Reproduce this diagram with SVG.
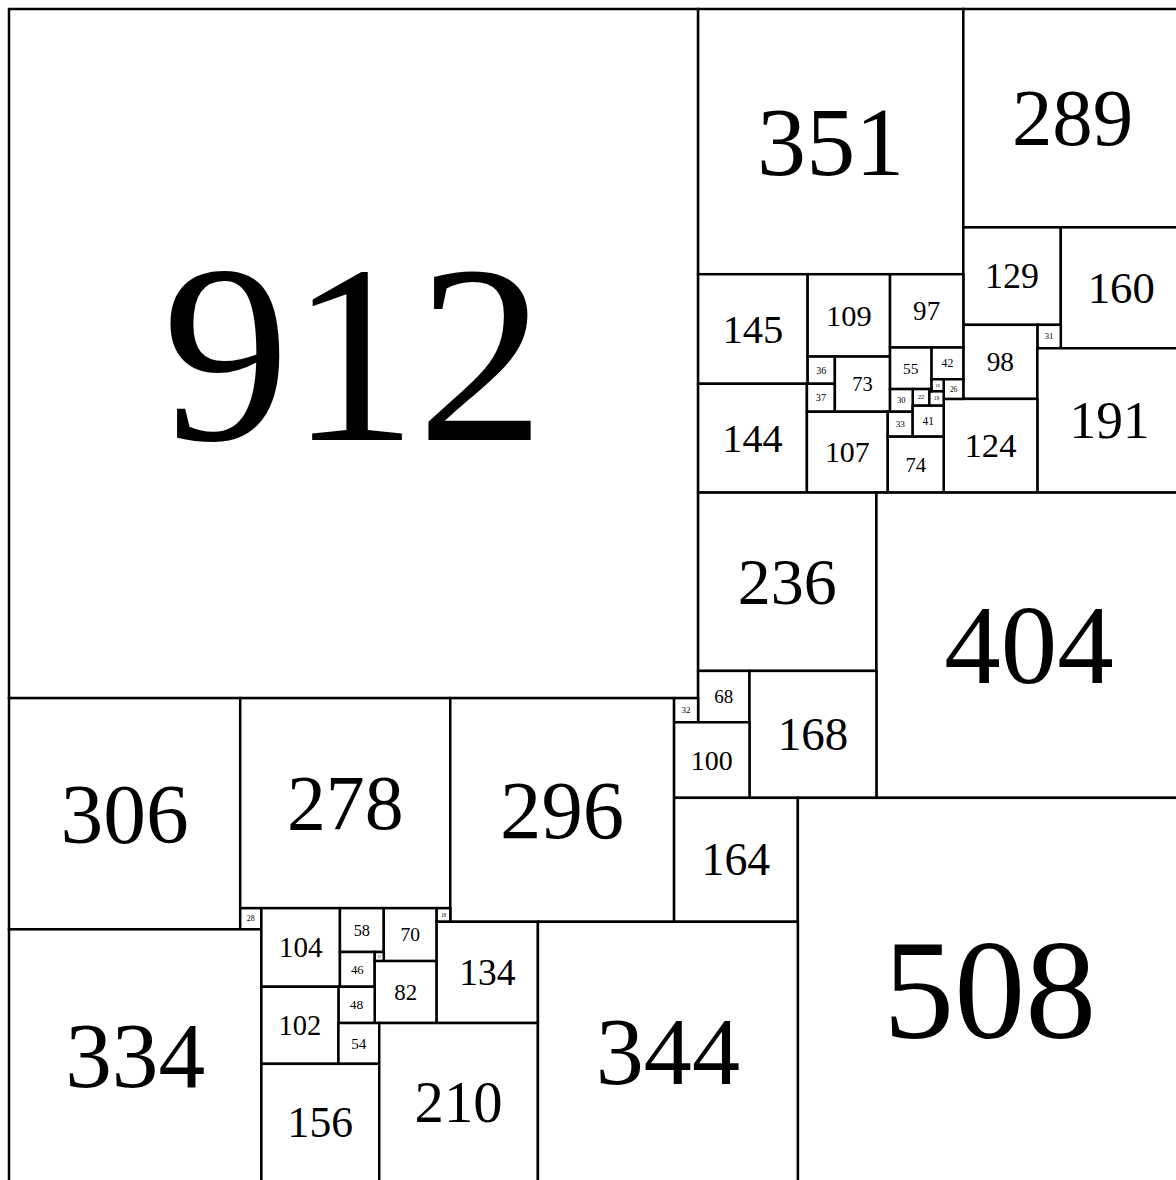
<svg xmlns="http://www.w3.org/2000/svg" width="1176" height="1180" viewBox="0 0 1176 1180">
<style>
rect.sq{fill:#fff;stroke:#000;stroke-width:3.3}
text{font-family:"Liberation Serif","Times New Roman",serif;fill:#000;text-anchor:middle}
</style>
<rect x="0" y="0" width="1176" height="1180" fill="#fff"/>
<g transform="translate(9,9) scale(0.7556)">
<g id="connectors"></g>
<g id="s912"><rect class="sq" x="0" y="0" width="912" height="912"/><text x="456" y="570" font-size="337.4">912</text></g>
<g id="s351"><rect class="sq" x="912" y="0" width="351" height="351"/><text x="1087.5" y="219.4" font-size="129.9">351</text></g>
<g id="s289"><rect class="sq" x="1263" y="0" width="289" height="289"/><text x="1407.5" y="180.6" font-size="106.9">289</text></g>
<g id="s129"><rect class="sq" x="1263" y="289" width="129" height="129"/><text x="1327.5" y="369.6" font-size="47.7">129</text></g>
<g id="s160"><rect class="sq" x="1392" y="289" width="160" height="160"/><text x="1472" y="389" font-size="59.2">160</text></g>
<g id="s31"><rect class="sq" x="1361" y="418" width="31" height="31"/><text x="1376.5" y="437.4" font-size="11.5">31</text></g>
<g id="s98"><rect class="sq" x="1263" y="418" width="98" height="98"/><text x="1312" y="479.3" font-size="36.3">98</text></g>
<g id="s191"><rect class="sq" x="1361" y="449" width="191" height="191"/><text x="1456.5" y="568.4" font-size="70.7">191</text></g>
<g id="s124"><rect class="sq" x="1237" y="516" width="124" height="124"/><text x="1299" y="593.5" font-size="45.9">124</text></g>
<g id="s145"><rect class="sq" x="912" y="351" width="145" height="145"/><text x="984.5" y="441.6" font-size="53.7">145</text></g>
<g id="s144"><rect class="sq" x="912" y="496" width="144" height="144"/><text x="984" y="586" font-size="53.3">144</text></g>
<g id="s109"><rect class="sq" x="1057" y="351" width="109" height="109"/><text x="1111.5" y="419.1" font-size="40.3">109</text></g>
<g id="s97"><rect class="sq" x="1166" y="351" width="97" height="97"/><text x="1214.5" y="411.6" font-size="35.9">97</text></g>
<g id="s36"><rect class="sq" x="1057" y="460" width="36" height="36"/><text x="1075" y="482.5" font-size="13.3">36</text></g>
<g id="s37"><rect class="sq" x="1056" y="496" width="37" height="37"/><text x="1074.5" y="519.1" font-size="13.7">37</text></g>
<g id="s73"><rect class="sq" x="1093" y="460" width="73" height="73"/><text x="1129.5" y="505.6" font-size="27">73</text></g>
<g id="s107"><rect class="sq" x="1056" y="533" width="107" height="107"/><text x="1109.5" y="599.9" font-size="39.6">107</text></g>
<g id="s55"><rect class="sq" x="1166" y="448" width="55" height="55"/><text x="1193.5" y="482.4" font-size="20.4">55</text></g>
<g id="s42"><rect class="sq" x="1221" y="448" width="42" height="42"/><text x="1242" y="474.3" font-size="15.5">42</text></g>
<g id="s26"><rect class="sq" x="1237" y="490" width="26" height="26"/><text x="1250" y="506.3" font-size="9.6">26</text></g>
<g id="s16"><rect class="sq" x="1221" y="490" width="16" height="16"/><text x="1229" y="500" font-size="5.9">16</text></g>
<g id="s22"><rect class="sq" x="1196" y="503" width="22" height="22"/><text x="1207" y="516.8" font-size="8.1">22</text></g>
<g id="s19"><rect class="sq" x="1218" y="506" width="19" height="19"/><text x="1227.5" y="517.9" font-size="7">19</text></g>
<g id="s3"><rect class="sq" x="1218" y="503" width="3" height="3"/></g>
<g id="s30"><rect class="sq" x="1166" y="503" width="30" height="30"/><text x="1181" y="521.8" font-size="11.1">30</text></g>
<g id="s33"><rect class="sq" x="1163" y="533" width="33" height="33"/><text x="1179.5" y="553.6" font-size="12.2">33</text></g>
<g id="s41"><rect class="sq" x="1196" y="525" width="41" height="41"/><text x="1216.5" y="550.6" font-size="15.2">41</text></g>
<g id="s74"><rect class="sq" x="1163" y="566" width="74" height="74"/><text x="1200" y="612.3" font-size="27.4">74</text></g>
<g id="s236"><rect class="sq" x="912" y="640" width="236" height="236"/><text x="1030" y="787.5" font-size="87.3">236</text></g>
<g id="s404"><rect class="sq" x="1148" y="640" width="404" height="404"/><text x="1350" y="892.5" font-size="149.5">404</text></g>
<g id="s68"><rect class="sq" x="912" y="876" width="68" height="68"/><text x="946" y="918.5" font-size="25.2">68</text></g>
<g id="s168"><rect class="sq" x="980" y="876" width="168" height="168"/><text x="1064" y="981" font-size="62.2">168</text></g>
<g id="s32"><rect class="sq" x="880" y="912" width="32" height="32"/><text x="896" y="932" font-size="11.8">32</text></g>
<g id="s100"><rect class="sq" x="880" y="944" width="100" height="100"/><text x="930" y="1006.5" font-size="37">100</text></g>
<g id="s164"><rect class="sq" x="880" y="1044" width="164" height="164"/><text x="962" y="1146.5" font-size="60.7">164</text></g>
<g id="s508"><rect class="sq" x="1044" y="1044" width="508" height="508"/><text x="1298" y="1361.5" font-size="188">508</text></g>
<g id="s306"><rect class="sq" x="0" y="912" width="306" height="306"/><text x="153" y="1103.3" font-size="113.2">306</text></g>
<g id="s278"><rect class="sq" x="306" y="912" width="278" height="278"/><text x="445" y="1085.8" font-size="102.9">278</text></g>
<g id="s296"><rect class="sq" x="584" y="912" width="296" height="296"/><text x="732" y="1097" font-size="109.5">296</text></g>
<g id="s28"><rect class="sq" x="306" y="1190" width="28" height="28"/><text x="320" y="1207.5" font-size="10.4">28</text></g>
<g id="s334"><rect class="sq" x="0" y="1218" width="334" height="334"/><text x="167" y="1426.8" font-size="123.6">334</text></g>
<g id="s104"><rect class="sq" x="334" y="1190" width="104" height="104"/><text x="386" y="1255" font-size="38.5">104</text></g>
<g id="s58"><rect class="sq" x="438" y="1190" width="58" height="58"/><text x="467" y="1226.3" font-size="21.5">58</text></g>
<g id="s70"><rect class="sq" x="496" y="1190" width="70" height="70"/><text x="531" y="1233.8" font-size="25.9">70</text></g>
<g id="s18"><rect class="sq" x="566" y="1190" width="18" height="18"/><text x="575" y="1201.3" font-size="6.7">18</text></g>
<g id="s46"><rect class="sq" x="438" y="1248" width="46" height="46"/><text x="461" y="1276.8" font-size="17">46</text></g>
<g id="s12"><rect class="sq" x="484" y="1248" width="12" height="12"/><text x="490" y="1255.5" font-size="4.4">12</text></g>
<g id="s82"><rect class="sq" x="484" y="1260" width="82" height="82"/><text x="525" y="1311.3" font-size="30.3">82</text></g>
<g id="s134"><rect class="sq" x="566" y="1208" width="134" height="134"/><text x="633" y="1291.8" font-size="49.6">134</text></g>
<g id="s48"><rect class="sq" x="436" y="1294" width="48" height="48"/><text x="460" y="1324" font-size="17.8">48</text></g>
<g id="s102"><rect class="sq" x="334" y="1294" width="102" height="102"/><text x="385" y="1357.8" font-size="37.7">102</text></g>
<g id="s54"><rect class="sq" x="436" y="1342" width="54" height="54"/><text x="463" y="1375.8" font-size="20">54</text></g>
<g id="s156"><rect class="sq" x="334" y="1396" width="156" height="156"/><text x="412" y="1493.5" font-size="57.7">156</text></g>
<g id="s210"><rect class="sq" x="490" y="1342" width="210" height="210"/><text x="595" y="1473.3" font-size="77.7">210</text></g>
<g id="s344"><rect class="sq" x="700" y="1208" width="344" height="344"/><text x="872" y="1423" font-size="127.3">344</text></g>
</g>
</svg>
